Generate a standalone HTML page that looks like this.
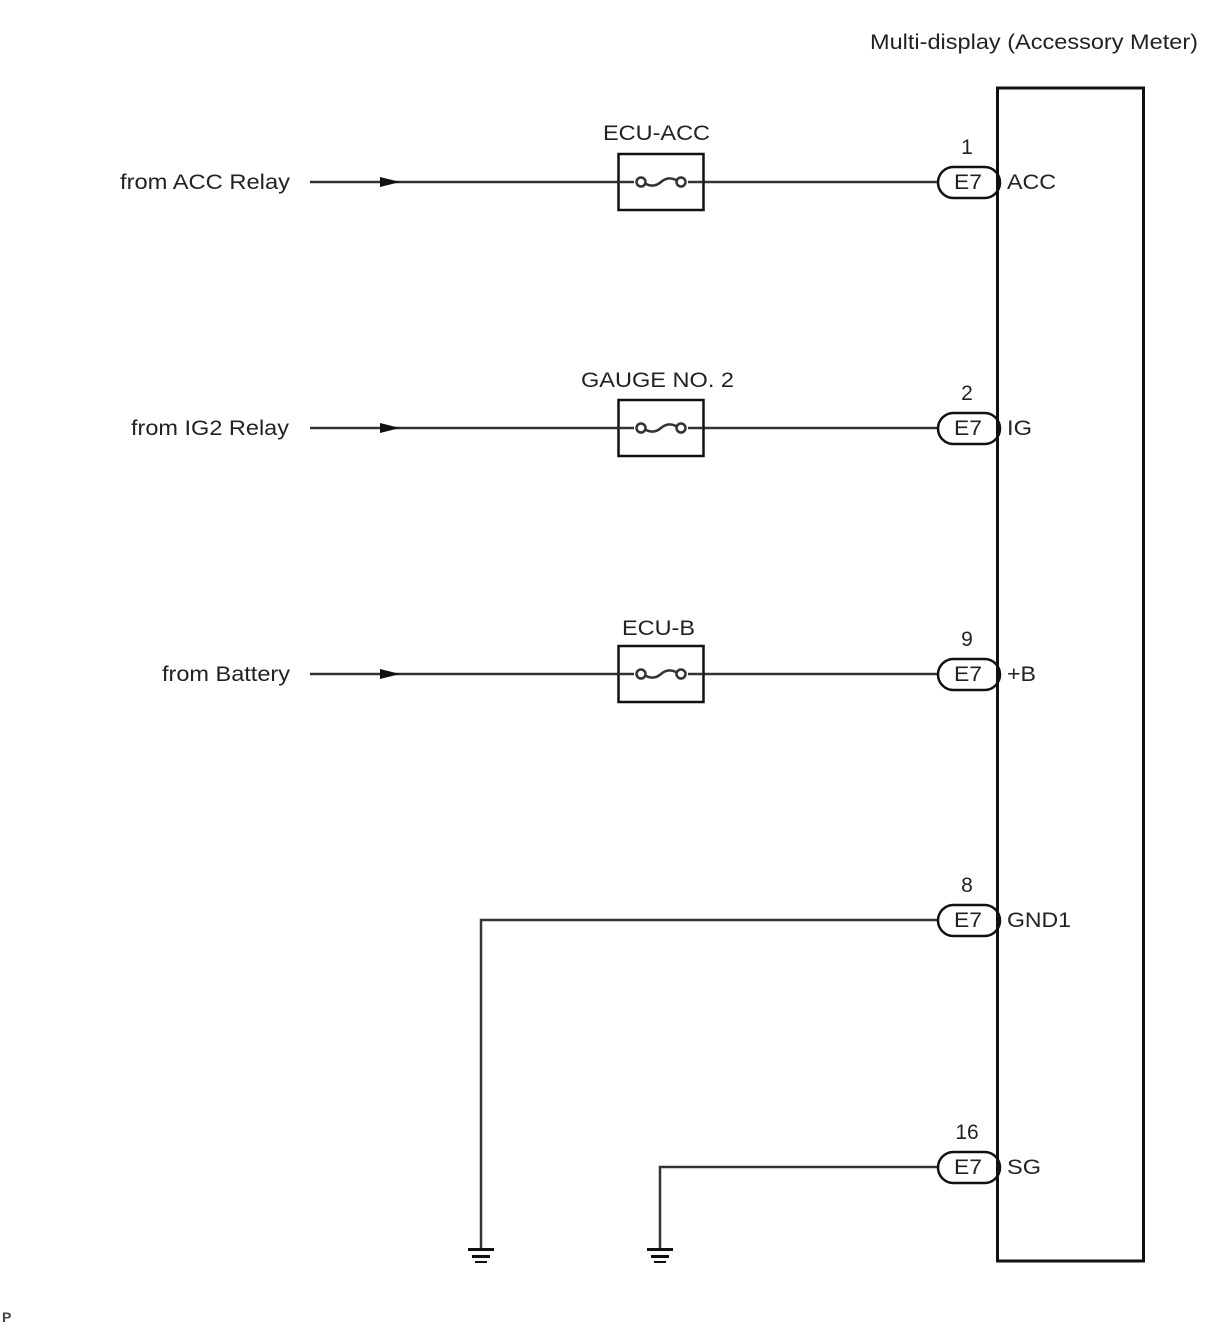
<!DOCTYPE html>
<html><head><meta charset="utf-8"><style>
html,body{margin:0;padding:0;background:#fff}
svg{display:block}
text{font-family:"Liberation Sans",Arial,sans-serif;font-size:21px;fill:#222}
</style></head><body>
<svg width="1210" height="1328" viewBox="0 0 1210 1328" xmlns="http://www.w3.org/2000/svg">
<text x="870" y="49" textLength="328" lengthAdjust="spacingAndGlyphs">Multi-display (Accessory Meter)</text>
<rect x="997.5" y="88" width="146" height="1173" fill="none" stroke="#111" stroke-width="3"/>
<g stroke="#333" stroke-width="2.5" fill="none">
<line x1="310" y1="182" x2="938" y2="182"/>
<line x1="310" y1="428" x2="938" y2="428"/>
<line x1="310" y1="674" x2="938" y2="674"/>
<polyline points="938,920 481,920 481,1250"/>
<polyline points="938,1167 660,1167 660,1250"/>
</g>
<g fill="#111">
<polygon points="380,177 400,182 380,187"/>
<polygon points="380,423 400,428 380,433"/>
<polygon points="380,669 400,674 380,679"/>
</g>
<g fill="#111">
<rect x="468" y="1248" width="26" height="3"/><rect x="472" y="1255" width="18" height="3"/><rect x="475" y="1261" width="12" height="2"/>
<rect x="647" y="1248" width="26" height="3"/><rect x="651" y="1255" width="18" height="3"/><rect x="654" y="1261" width="12" height="2"/>
</g>
<g stroke="#111" stroke-width="2.5" fill="#fff">
<rect x="618.5" y="154" width="85" height="56"/>
<rect x="618.5" y="400" width="85" height="56"/>
<rect x="618.5" y="646" width="85" height="56"/>
</g>
<g stroke="#333" stroke-width="2.5" fill="none">
<line x1="618" y1="182" x2="634" y2="182"/><line x1="688" y1="182" x2="703" y2="182"/>
<line x1="618" y1="428" x2="634" y2="428"/><line x1="688" y1="428" x2="703" y2="428"/>
<line x1="618" y1="674" x2="634" y2="674"/><line x1="688" y1="674" x2="703" y2="674"/>
<path d="M646 184 Q654 188 661 182 Q668 176 676 180"/>
<path d="M646 430 Q654 434 661 428 Q668 422 676 426"/>
<path d="M646 676 Q654 680 661 674 Q668 668 676 672"/>
<circle cx="641" cy="182" r="4.5" fill="#fff"/><circle cx="681" cy="182" r="4.5" fill="#fff"/>
<circle cx="641" cy="428" r="4.5" fill="#fff"/><circle cx="681" cy="428" r="4.5" fill="#fff"/>
<circle cx="641" cy="674" r="4.5" fill="#fff"/><circle cx="681" cy="674" r="4.5" fill="#fff"/>
</g>
<text x="603" y="140" textLength="107" lengthAdjust="spacingAndGlyphs">ECU-ACC</text>
<text x="581" y="387" textLength="153" lengthAdjust="spacingAndGlyphs">GAUGE NO. 2</text>
<text x="622" y="635" textLength="73" lengthAdjust="spacingAndGlyphs">ECU-B</text>
<text x="120" y="189" textLength="170" lengthAdjust="spacingAndGlyphs">from ACC Relay</text>
<text x="131" y="435" textLength="158" lengthAdjust="spacingAndGlyphs">from IG2 Relay</text>
<text x="162" y="681" textLength="128" lengthAdjust="spacingAndGlyphs">from Battery</text>
<g stroke="#111" stroke-width="2.5" fill="#fff">
<rect x="938" y="167" width="62" height="31" rx="15.5"/>
<rect x="938" y="413" width="62" height="31" rx="15.5"/>
<rect x="938" y="659" width="62" height="31" rx="15.5"/>
<rect x="938" y="905" width="62" height="31" rx="15.5"/>
<rect x="938" y="1152" width="62" height="31" rx="15.5"/>
</g>
<line x1="997.5" y1="88" x2="997.5" y2="1261" stroke="#111" stroke-width="3"/>
<g>
<text x="954" y="189" textLength="28" lengthAdjust="spacingAndGlyphs">E7</text><text x="967" y="154" text-anchor="middle">1</text>
<text x="954" y="435" textLength="28" lengthAdjust="spacingAndGlyphs">E7</text><text x="967" y="400" text-anchor="middle">2</text>
<text x="954" y="681" textLength="28" lengthAdjust="spacingAndGlyphs">E7</text><text x="967" y="646" text-anchor="middle">9</text>
<text x="954" y="927" textLength="28" lengthAdjust="spacingAndGlyphs">E7</text><text x="967" y="892" text-anchor="middle">8</text>
<text x="954" y="1174" textLength="28" lengthAdjust="spacingAndGlyphs">E7</text><text x="967" y="1139" text-anchor="middle">16</text>
</g>
<text x="1007" y="189" textLength="49" lengthAdjust="spacingAndGlyphs">ACC</text>
<text x="1007" y="435" textLength="25" lengthAdjust="spacingAndGlyphs">IG</text>
<text x="1007" y="681" textLength="29" lengthAdjust="spacingAndGlyphs">+B</text>
<text x="1007" y="927" textLength="64" lengthAdjust="spacingAndGlyphs">GND1</text>
<text x="1007" y="1174" textLength="34" lengthAdjust="spacingAndGlyphs">SG</text>
<text x="2" y="1322" style="font-size:14px;fill:#444;font-weight:bold">P</text>
</svg>
</body></html>
